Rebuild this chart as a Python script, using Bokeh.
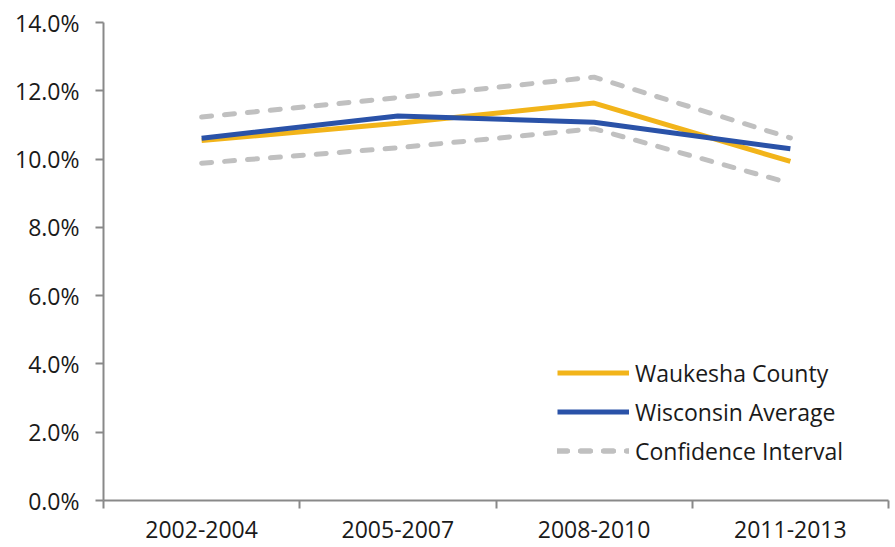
from bokeh.plotting import figure
from bokeh.models import Range1d, FixedTicker, PrintfTickFormatter
from bokeh.embed import file_html
from bokeh.resources import INLINE

# données (%)
periodes = ["2002-2004", "2005-2007", "2008-2010", "2011-2013"]
waukesha = [10.54, 11.05, 11.64, 9.93]
wisconsin = [10.61, 11.26, 11.08, 10.30]
ic_haut = [11.23, 11.80, 12.40, 10.62]
ic_bas = [9.88, 10.33, 10.89, 9.29]
y_ticks = [0, 2, 4, 6, 8, 10, 12, 14]

x = [i + 0.5 for i in range(len(periodes))]

police = "Open Sans"
taille = "23px"
gris_axe = "#898989"

p = figure(width=893, height=547, output_backend="svg", toolbar_location=None,
           x_range=Range1d(0, len(periodes)), y_range=Range1d(0, 14),
           min_border_left=103, min_border_right=5, min_border_top=22, min_border_bottom=47)
p.outline_line_color = None
p.grid.grid_line_color = None
p.background_fill_color = "white"

# Lignes
p.line(x, waukesha, line_color="#F2B41A", line_width=5, legend_label="Waukesha County")
p.line(x, wisconsin, line_color="#2A52A8", line_width=5, legend_label="Wisconsin Average")
p.line(x, ic_haut, line_color="#C0C0C0", line_width=5, line_dash="10 13", line_cap="round",
       legend_label="Confidence Interval")
p.line(x, ic_bas, line_color="#C0C0C0", line_width=5, line_dash="10 13", line_cap="round",
       legend_label="Confidence Interval")

# Axe x : étiquettes au centre, graduations entre catégories
p.xaxis.ticker = FixedTicker(ticks=x, minor_ticks=list(range(len(periodes) + 1)))
p.xaxis.major_label_overrides = {v: lab for v, lab in zip(x, periodes)}
p.xaxis.major_tick_line_color = None
p.xaxis.minor_tick_line_color = gris_axe
p.xaxis.minor_tick_line_width = 2
p.xaxis.minor_tick_out = 8
p.xaxis.minor_tick_in = 0
p.xaxis.major_label_standoff = 12

# Axe y
p.yaxis.ticker = FixedTicker(ticks=y_ticks, minor_ticks=[])
p.yaxis.formatter = PrintfTickFormatter(format="%.1f%%")
p.yaxis.major_tick_line_color = gris_axe
p.yaxis.major_tick_line_width = 2
p.yaxis.major_tick_out = 8
p.yaxis.major_tick_in = 0
p.yaxis.major_label_standoff = 16

for ax in (p.xaxis, p.yaxis):
    ax.axis_line_color = gris_axe
    ax.axis_line_width = 2
    ax.major_label_text_font = police
    ax.major_label_text_font_size = taille
    ax.major_label_text_color = "#1a1a1a"

# Légende
p.legend.location = (454, 30)
p.legend.padding = 0
p.legend.margin = 0
p.legend.spacing = 0
p.legend.glyph_width = 72
p.legend.glyph_height = 39
p.legend.label_height = 39
p.legend.label_standoff = 6
p.legend.label_text_font = police
p.legend.label_text_font_size = taille
p.legend.label_text_color = "#1a1a1a"
p.legend.background_fill_alpha = 0
p.legend.border_line_color = None

open("out.html", "w").write(file_html(p, INLINE))
